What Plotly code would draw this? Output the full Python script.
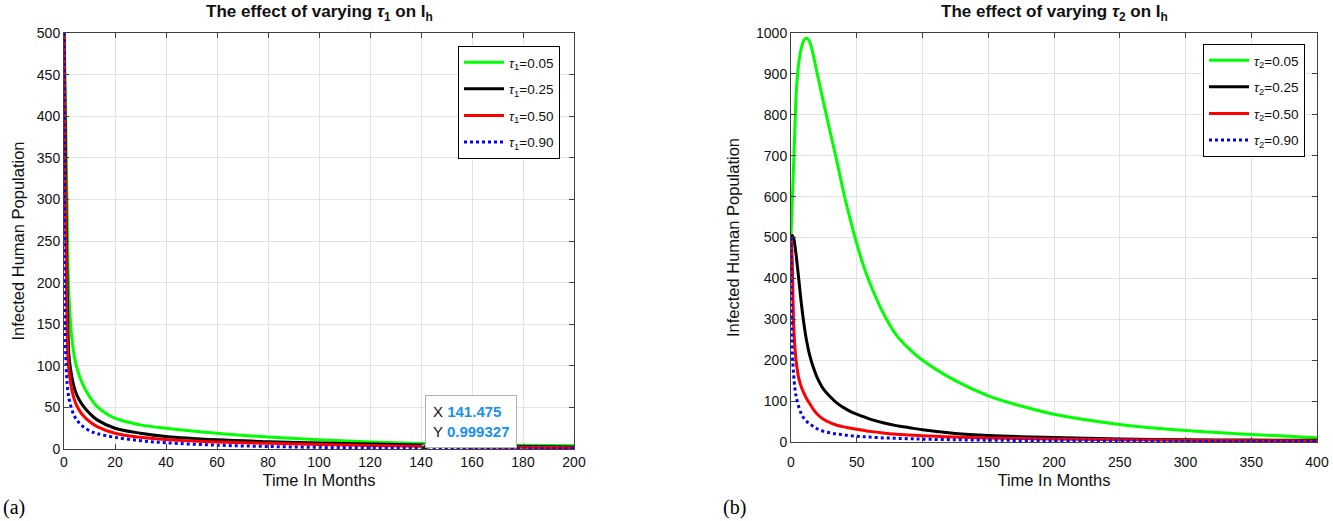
import plotly.graph_objects as go

# ---- panel (a): varying tau_1 ----
t_a = [0, 0.25, 0.5, 1, 1.5, 2, 3, 4, 5, 7, 10, 13, 20, 30, 40, 60, 80, 100, 120, 140, 160, 180, 200]
ih_tau1_005 = [500, 470, 430, 330, 230, 180, 135, 112, 98, 80, 63, 51, 37, 29, 25, 19, 14.5, 11, 8.5, 6.6, 5.4, 4.5, 3.8]
ih_tau1_025 = [500, 440, 380, 240, 150, 110, 88, 74, 65, 54, 43, 35, 25, 19, 15, 11, 8.8, 7.2, 5.9, 4.8, 3.9, 3.1, 2.5]
ih_tau1_050 = [500, 400, 320, 190, 112, 92, 72, 60, 52, 42, 33, 27, 19, 14, 11.5, 8.5, 6.8, 5.4, 4.3, 3.3, 2.5, 2.0, 1.6]
ih_tau1_090 = [500, 260, 140, 88, 70, 60, 48, 40, 35, 28, 22, 18.5, 14, 10, 7.5, 4.6, 3, 2, 1.4, 1.0, 0.8, 0.6, 0.5]
labels_a = ["0.05", "0.25", "0.50", "0.90"]

# datatip shown on panel (a)
tip_x = 141.475
tip_y = 0.999327

# ---- panel (b): varying tau_2 ----
t_b = [0, 0.5, 1, 2, 3, 4, 6, 8, 10, 12, 14, 17, 20, 25, 30, 35, 40, 45, 50, 55, 60, 70, 80, 90,
       100, 125, 150, 175, 200, 250, 300, 350, 400]
ih_tau2_005 = [500, 550, 590, 680, 770, 855, 930, 965, 983, 988, 980, 945, 900, 826, 755, 685, 610, 545, 485,
               432, 388, 316, 262, 227, 200, 150, 113, 88, 68, 43, 28, 18.5, 10.5]
ih_tau2_025 = [500, 504, 505, 498, 480, 455, 395, 335, 285, 245, 215, 182, 157, 128, 110, 95, 84, 75, 68,
               62, 56, 47, 40, 35, 30, 21, 16, 13, 11, 7.5, 5.7, 4.7, 4]
ih_tau2_050 = [500, 480, 440, 290, 230, 195, 155, 133, 118, 105, 95, 80, 68, 55, 47, 41, 37, 34, 31,
               28.5, 26, 22, 19, 17, 15, 12, 10, 8.5, 7.5, 5.5, 4.2, 3.2, 2.5]
ih_tau2_090 = [500, 296, 220, 165, 130, 110, 85, 68, 57, 50, 45, 38, 32, 26, 22, 19.5, 17.5, 15.5, 14,
               13, 12, 10, 9, 8, 7, 5.5, 4.5, 3.8, 3.2, 2.4, 1.8, 1.4, 1.1]
labels_b = ["0.05", "0.25", "0.50", "0.90"]

colors = ["#00ff00", "#000000", "#ff0000", "#0000ff"]
dashes = ["solid", "solid", "solid", "dot"]

fig = go.Figure()

for i, ys in enumerate([ih_tau1_005, ih_tau1_025, ih_tau1_050, ih_tau1_090]):
    fig.add_trace(go.Scatter(
        x=t_a, y=ys, mode="lines", line_shape="spline",
        line=dict(color=colors[i], width=3, dash=dashes[i]),
        name="<i>τ</i><sub>1</sub>=" + labels_a[i],
        legend="legend", legendgroup="a%d" % i,
        xaxis="x", yaxis="y"))

fig.add_trace(go.Scatter(
    x=[tip_x], y=[tip_y], mode="markers",
    marker=dict(color="#222222", size=7, line=dict(color="white", width=1)),
    showlegend=False, xaxis="x", yaxis="y"))

for i, ys in enumerate([ih_tau2_005, ih_tau2_025, ih_tau2_050, ih_tau2_090]):
    fig.add_trace(go.Scatter(
        x=t_b, y=ys, mode="lines", line_shape="spline",
        line=dict(color=colors[i], width=3, dash=dashes[i]),
        name="<i>τ</i><sub>2</sub>=" + labels_b[i],
        legend="legend2", legendgroup="b%d" % i,
        xaxis="x2", yaxis="y2"))

sans = "Liberation Sans, Arial, Helvetica"
axis_style = dict(
    showline=True, linecolor="#404040", linewidth=1, mirror="ticks",
    ticks="inside", ticklen=5, tickcolor="#404040",
    showgrid=True, gridcolor="#e3e3e3", gridwidth=1, zeroline=False,
    tickfont=dict(family=sans, size=14, color="#111111"),
    automargin=False,
)
title_font = dict(family=sans, size=16.5, color="#111111")
legend_font = dict(family=sans, size=13.5, color="#111111")

fig.update_layout(
    width=1333, height=521, autosize=False,
    margin=dict(l=0, r=0, t=0, b=0),
    paper_bgcolor="white", plot_bgcolor="white",
    xaxis=dict(domain=[64 / 1333, 574 / 1333], anchor="y", range=[0, 200], dtick=20,
               title=dict(text="Time In Months", font=title_font, standoff=5), **axis_style),
    yaxis=dict(domain=[1 - 449 / 521, 1 - 33 / 521], anchor="x", range=[0, 500], dtick=50,
               title=dict(text="Infected Human Population", font=title_font, standoff=8), **axis_style),
    xaxis2=dict(domain=[791 / 1333, 1317 / 1333], anchor="y2", range=[0, 400], dtick=50,
                ticklabelstandoff=7,
                title=dict(text="Time In Months", font=title_font, standoff=5), **axis_style),
    yaxis2=dict(domain=[1 - 442 / 521, 1 - 33 / 521], anchor="x2", range=[0, 1000], dtick=100,
                title=dict(text="Infected Human Population", font=title_font, standoff=12), **axis_style),
    legend=dict(x=560 / 1333, y=1 - 46 / 521, xanchor="right", yanchor="top",
                bgcolor="white", bordercolor="#000000", borderwidth=1, font=legend_font,
                traceorder="grouped", tracegroupgap=6, itemwidth=40),
    legend2=dict(x=1305 / 1333, y=1 - 44 / 521, xanchor="right", yanchor="top",
                 bgcolor="white", bordercolor="#000000", borderwidth=1, font=legend_font,
                 traceorder="grouped", tracegroupgap=6, itemwidth=40),
    showlegend=True,
)

head_font = dict(family=sans, size=17, color="#111111")
fig.add_annotation(text="<b>The effect of varying <i>τ</i><sub>1</sub> on I<sub>h</sub></b>",
                   xref="paper", yref="paper", x=319 / 1333, y=1 - 13 / 521,
                   xanchor="center", yanchor="middle", showarrow=False, font=head_font)
fig.add_annotation(text="<b>The effect of varying <i>τ</i><sub>2</sub> on I<sub>h</sub></b>",
                   xref="paper", yref="paper", x=1054 / 1333, y=1 - 13 / 521,
                   xanchor="center", yanchor="middle", showarrow=False, font=head_font)

panel_font = dict(family="Liberation Serif, Times New Roman", size=20, color="#000000")
fig.add_annotation(text="(a)", xref="paper", yref="paper", x=1 / 1333, y=1 - 507 / 521,
                   xanchor="left", yanchor="middle", showarrow=False, font=panel_font)
fig.add_annotation(text="(b)", xref="paper", yref="paper", x=721 / 1333, y=1 - 507 / 521,
                   xanchor="left", yanchor="middle", showarrow=False, font=panel_font)

# MATLAB-like datatip box
tip_text = ("X <b><span style='color:#1a90f0'>%s</span></b><br>"
            "Y <b><span style='color:#1a90f0'>%s</span></b>") % (tip_x, tip_y)
fig.add_annotation(text=tip_text, xref="x", yref="y", x=tip_x, y=tip_y,
                   xanchor="left", yanchor="bottom", showarrow=False, align="left",
                   bgcolor="white", bordercolor="#b0b0b0", borderwidth=1, borderpad=7,
                   font=dict(family=sans, size=15, color="#111111"))

# the page body has a default margin; remove it so the figure sits at (0, 0)
fig.write_html("out.html", config={"displayModeBar": False},
               post_script="document.body.style.margin='0px';")
